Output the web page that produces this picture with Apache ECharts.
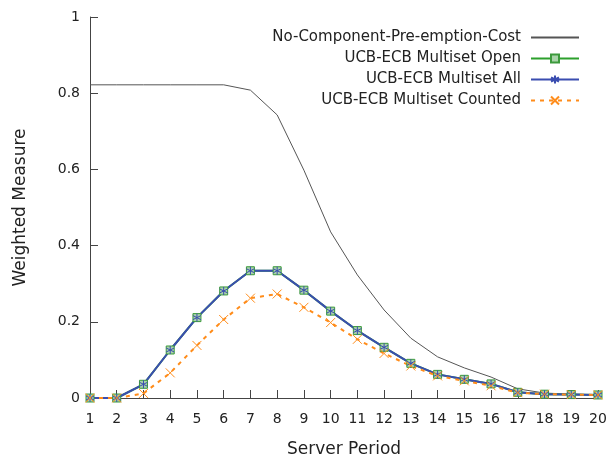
<!DOCTYPE html>
<html><head><meta charset="utf-8">
<script src="https://cdn.jsdelivr.net/npm/echarts@6/dist/echarts.min.js"></script>
<style>html,body{margin:0;padding:0;background:#fff}#c{width:610px;height:459px}</style>
</head><body><div id="c"></div>
<script>
const periods = ['1','2','3','4','5','6','7','8','9','10','11','12','13','14','15','16','17','18','19','20'];
const noCost  = [0.822,0.822,0.822,0.822,0.822,0.822,0.808,0.743,0.598,0.436,0.323,0.231,0.157,0.108,0.079,0.055,0.024,0.013,0.010,0.008];
const mOpen   = [0,0,0.036,0.126,0.211,0.281,0.334,0.334,0.283,0.228,0.177,0.133,0.091,0.062,0.049,0.037,0.015,0.010,0.009,0.008];
const mAll    = [0,0,0.036,0.126,0.211,0.281,0.334,0.334,0.283,0.228,0.177,0.133,0.091,0.062,0.049,0.037,0.015,0.010,0.009,0.008];
const mCount  = [0,0,0.012,0.066,0.138,0.206,0.262,0.273,0.238,0.198,0.154,0.117,0.084,0.058,0.045,0.032,0.014,0.010,0.009,0.008];
const yTicks = [0,0.2,0.4,0.6,0.8,1];

const names = ['No-Component-Pre-emption-Cost','UCB-ECB Multiset Open','UCB-ECB Multiset All','UCB-ECB Multiset Counted'];
const FONT = 'DejaVu Sans';
const chart = echarts.init(document.getElementById('c'));
const ast = 'path://M5,0L5,10M0.7,2.5L9.3,7.5M0.7,7.5L9.3,2.5';
const cross = 'path://M0,0L10,10M0,10L10,0';
function leg(i, extra){
  return Object.assign({data:[names[i]], orient:'vertical', right:30, top:30+i*21, align:'right', padding:0,
    itemWidth:48, itemHeight:10, textStyle:{fontFamily:FONT,fontSize:15,color:'#222',padding:[0,5,0,0]}}, extra||{});
}
chart.setOption({
  animation:false,
  legend:[leg(0,{itemStyle:{opacity:0}}),leg(1),leg(2),leg(3)],
  grid:{left:90,right:12,top:17,bottom:61,containLabel:false,outerBoundsMode:'none'},
  xAxis:{type:'category',data:periods,boundaryGap:false,name:'Server Period',nameLocation:'middle',nameGap:43,
    nameTextStyle:{fontFamily:FONT,fontSize:17,color:'#222'},
    axisLine:{lineStyle:{color:'#444',width:1}},
    axisTick:{inside:true,length:8,lineStyle:{color:'#444'}},
    axisLabel:{fontFamily:FONT,fontSize:14,color:'#222',margin:14},splitLine:{show:false}},
  yAxis:{type:'value',min:yTicks[0],max:yTicks[yTicks.length-1],interval:0.2,name:'Weighted Measure',nameLocation:'middle',nameGap:61,
    nameTextStyle:{fontFamily:FONT,fontSize:17,color:'#222'},
    axisLine:{show:true,lineStyle:{color:'#444',width:1}},
    axisTick:{show:true,inside:true,length:8,lineStyle:{color:'#444'}},
    axisLabel:{fontFamily:FONT,fontSize:14,color:'#222',margin:10},splitLine:{show:false}},
  series:[
    {name:names[0],type:'line',data:noCost,symbol:'none',lineStyle:{color:'#555',width:1},itemStyle:{color:'#555'}},
    {name:names[1],type:'line',data:mOpen,symbol:'rect',symbolSize:8,lineStyle:{color:'#2ca02c',width:2},
      itemStyle:{color:'#a9d3a9',borderColor:'#3c9a3c',borderWidth:1}},
    {name:names[2],type:'line',data:mAll,symbol:ast,symbolSize:8,lineStyle:{color:'#3a4db0',width:2},
      itemStyle:{color:'#3a4db0',borderColor:'#3a4db0',borderWidth:1}},
    {name:names[3],type:'line',data:mCount,symbol:cross,symbolSize:9,lineStyle:{color:'#ff8c1a',width:2,type:[4,5]},
      itemStyle:{color:'#ff8c1a',borderColor:'#ff8c1a',borderWidth:1}}
  ]
});
</script></body></html>
